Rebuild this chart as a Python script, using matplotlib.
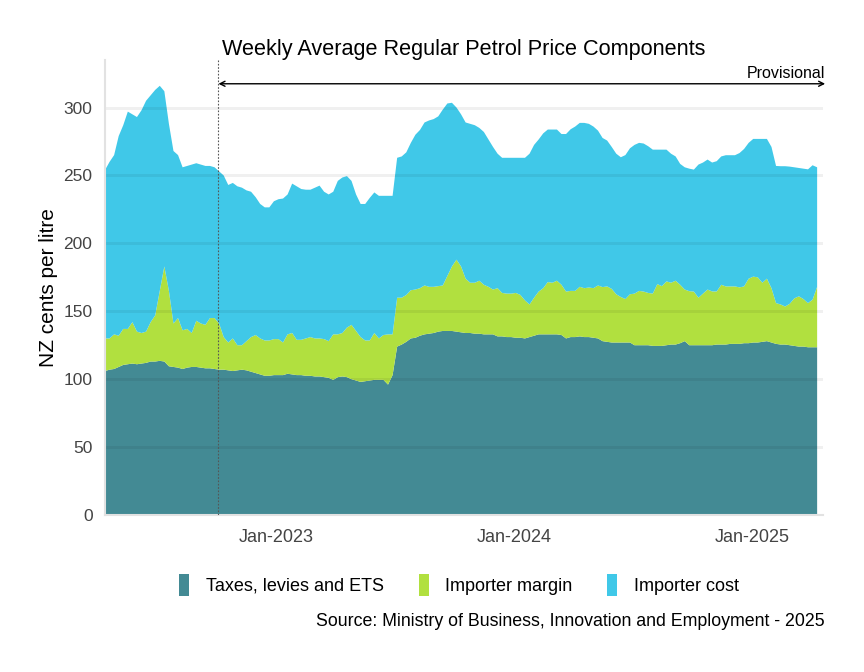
import matplotlib
matplotlib.use("Agg")
import matplotlib.pyplot as plt
from matplotlib.patches import Patch
import pandas as pd

plt.rcParams['font.family'] = ['Liberation Sans', 'DejaVu Sans']

start_date = "2022-04-14"
n_weeks = 157
provisional_from = "2022-10-05"

taxes = [106, 107, 107.5, 109, 110.5, 111, 111.5, 111, 111.5, 112, 113, 113, 113.5, 113, 109.5, 109, 108.5, 107.5, 108.5, 109,
         109, 108.5, 108, 108, 107.5, 107, 107, 106.5, 106, 106.5, 107, 106.5, 105.5, 104.5, 103.5, 102.5, 102.5, 103, 103, 103,
         104, 103.5, 103, 103, 102.5, 102.5, 102, 102, 101.5, 101, 99.5, 101.5, 102, 101.5, 100, 99, 98, 98.5, 99, 99.5,
         99.5, 99.5, 96, 103, 124, 125.5, 127.5, 130, 130.5, 132, 133, 133.5, 134, 135, 135.5, 135.5, 135.5, 135, 134.5, 134,
         134, 133.5, 133.5, 133, 133, 133, 131.5, 131.5, 131, 131, 130.5, 130.5, 130, 131, 132, 133, 133, 133, 133, 133,
         132.5, 130, 131, 131, 131.5, 131, 131, 130.5, 130, 128, 127.5, 127, 127, 127, 127, 127, 125, 125, 125, 125,
         124.5, 124.5, 124.5, 125, 125.5, 125.5, 126.5, 128, 125, 125, 125, 125, 125, 125, 125.5, 125.5, 125.5, 126, 126, 126,
         126.5, 126.5, 127, 127, 127.5, 128, 127, 126, 125.5, 125.5, 125, 124.5, 124, 124, 123.5, 123.5, 123.5]

margin = [24, 23, 25.5, 23, 26.5, 26, 30.5, 24, 22.5, 23, 29, 34, 51.5, 70, 55.5, 32, 36.5, 28.5, 28.5, 25,
          34, 32.5, 32, 37, 37.5, 34, 24, 20.5, 24, 18.5, 18, 21.5, 25.5, 28, 26.5, 26, 26, 26.5, 26.5, 24,
          29, 30.5, 26, 26, 27.5, 28.5, 28, 28, 28, 27, 33.5, 31.5, 32, 36.5, 40, 36.5, 33, 30, 29.5, 34.5,
          30.5, 33, 37, 30, 36, 34.5, 34.5, 35.5, 35.5, 35, 36, 34.5, 34, 33.5, 33.5, 40.5, 47.5, 53, 48.5, 40,
          37, 37.5, 39, 36.5, 35, 33, 35.5, 32, 32, 32, 33, 31.5, 28, 24, 28, 31.5, 34, 38.5, 38, 39.5,
          37, 34.5, 34, 34, 36.5, 36, 36.5, 36.5, 39, 39.8, 40.8, 39.5, 35.5, 33.5, 32, 35.5, 38, 40, 39.5, 38.5,
          38.5, 45.5, 44, 47, 45.5, 47, 43, 38, 39.8, 39.5, 35, 38, 41, 39.6, 39.1, 44, 42.8, 42.3, 42.3, 41.6,
          41.8, 47.5, 48.5, 48, 43.5, 46, 40, 30, 29.5, 28, 30.5, 35, 37, 35, 32.5, 35, 44.5]

importer_cost = [124, 130, 132, 147, 150, 160, 153, 158, 164, 170, 167, 166, 151, 129, 123, 127, 120, 120, 120, 124,
                 116, 117, 117, 112, 111, 112, 119, 116, 114.5, 117, 116, 111, 107, 101.5, 99, 98, 98, 101.5, 103, 106,
                 103, 110, 113, 111, 109.5, 108.5, 111, 112.5, 108.5, 108, 105, 113, 114.5, 111.5, 106, 100.5, 98, 100.5, 105, 103.5,
                 105, 102.5, 102, 102, 103, 104, 105, 108.5, 114, 116.5, 120, 122.5, 123.5, 125, 129.5, 127, 120.5, 112, 112, 115,
                 117, 116, 112.5, 112.5, 108.5, 105, 99, 99.5, 100, 100, 99.5, 101, 105, 111, 112.5, 112, 114, 112.3, 112.8, 111.3,
                 111, 116, 119, 121, 120.7, 121.7, 120.5, 119, 114, 109.8, 107.4, 104.5, 103.5, 102.9, 106, 107.5, 109.5, 109, 109, 108,
                 106, 99, 100.5, 97, 95, 91.5, 89, 90, 90.2, 89.8, 98, 96.5, 95.7, 94.9, 95.9, 94.5, 96.6, 96.6, 96.6, 98.9,
                 101.2, 100, 101.4, 101.9, 105.9, 102.9, 104, 101, 101.8, 103.3, 101, 96.5, 94.5, 96, 98.5, 99, 88]

series_labels = ["Taxes, levies and ETS", "Importer margin", "Importer cost"]
series_colors = ["#438a94", "#b1e03f", "#40c8e8"]
y_ticks = [0, 50, 100, 150, 200, 250, 300]
x_tick_dates = ["2023-01-01", "2024-01-01", "2025-01-01"]
x_tick_labels = ["Jan-2023", "Jan-2024", "Jan-2025"]

dates = pd.date_range(start_date, periods=n_weeks, freq="7D")

fig = plt.figure(figsize=(8.64, 6.72), dpi=100)
ax = fig.add_axes([105 / 864, 1 - 515 / 672, (823 - 105) / 864, (515 - 60) / 672])

ax.stackplot(dates, taxes, margin, importer_cost, colors=series_colors, linewidth=0, zorder=1)

ax.set_ylim(0, 335)
ax.set_xlim(pd.Timestamp(start_date), pd.Timestamp(start_date) + pd.Timedelta(days=1101))
ax.set_yticks(y_ticks)
ax.set_xticks(pd.to_datetime(x_tick_dates))
ax.set_xticklabels(x_tick_labels)
ax.tick_params(axis="both", length=0, labelcolor="#444444")
ax.tick_params(axis="x", pad=10, labelsize=13)
ax.tick_params(axis="y", pad=9, labelsize=12.5)
for yv in y_ticks[1:]:
    ax.axhline(yv, color="black", alpha=0.06, lw=2.2, zorder=2)
for s in ["top", "right"]:
    ax.spines[s].set_visible(False)
ax.spines["left"].set_color("#e2e2e2")
ax.spines["bottom"].set_color("#e2e2e2")
ax.spines["left"].set_linewidth(1.5)
ax.spines["bottom"].set_linewidth(1.5)

ax.set_ylabel("NZ cents per litre", fontsize=15, labelpad=4, color="black")
ax.set_title("Weekly Average Regular Petrol Price Components", fontsize=15.6, pad=3)

prov = pd.Timestamp(provisional_from)
ax.axvline(prov, color="#555555", lw=0.8, ls=(0, (1.5, 1.5)), zorder=3, ymax=1.0)
ax.annotate("", xy=(prov, 317.5), xytext=(1.003, 317.5),
            xycoords="data", textcoords=("axes fraction", "data"),
            arrowprops=dict(arrowstyle="<->", color="black", lw=1, shrinkA=0, shrinkB=0,
                            mutation_scale=9), annotation_clip=False)
ax.text(1.003, 319.5, "Provisional", transform=ax.get_yaxis_transform(), ha="right", va="bottom", fontsize=11.5)

handles = [Patch(facecolor=c, edgecolor="none", label=l) for c, l in zip(series_colors, series_labels)]
fig.legend(handles=handles, loc="center", bbox_to_anchor=(459 / 864, 1 - 585 / 672), ncol=3, frameon=False,
           fontsize=13, handlelength=0.55, handleheight=1.5, columnspacing=1.95, handletextpad=0.9)

fig.text(825 / 864, 1 - 622 / 672, "Source: Ministry of Business, Innovation and Employment - 2025",
         ha="right", va="center", fontsize=12.8)

fig.savefig("out.png", dpi=100, facecolor="white")
